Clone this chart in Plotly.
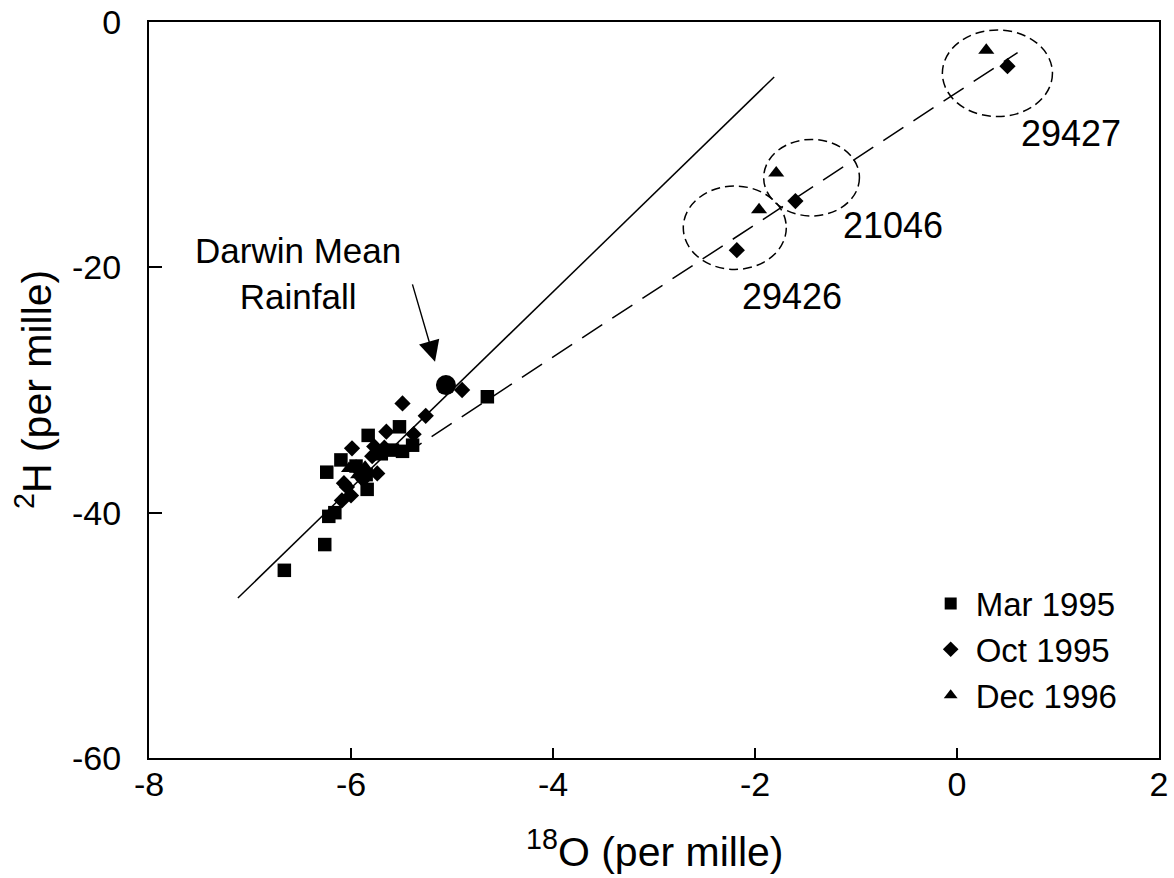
import plotly.graph_objects as go

# sample data (delta 18O, delta 2H, per mille)
mar95_o18 = [-6.66, -6.26, -6.22, -6.16, -6.24, -6.10, -5.83, -5.52, -4.65, -5.84, -5.39, -5.49, -5.59, -5.90, -5.85, -5.70, -5.95]
mar95_h2 = [-44.7, -42.6, -40.3, -40.0, -36.7, -35.7, -33.7, -33.0, -30.55, -38.1, -34.5, -35.0, -34.9, -36.7, -36.9, -35.2, -36.2]

oct95_o18 = [-5.49, -5.26, -5.65, -4.90, -5.99, -5.38, -6.04, -6.09, -6.00, -5.74, -5.79, -5.67, -5.95, -5.88, -5.77, -6.07, -1.60, -2.18, 0.50]
oct95_h2 = [-31.1, -32.1, -33.4, -30.0, -34.75, -33.6, -37.9, -39.0, -38.6, -36.8, -35.4, -34.7, -36.3, -37.3, -34.6, -37.6, -14.6, -18.6, -3.6]

dec96_o18 = [0.29, -1.79, -1.96, -6.02, -5.93, -5.86]
dec96_h2 = [-2.3, -12.3, -15.3, -36.4, -36.9, -36.3]

darwin_o18 = [-5.06]
darwin_h2 = [-29.6]

# meteoric water line and evaporation line end points
gmwl_o18 = [-7.12, -1.81]
gmwl_h2 = [-46.96, -4.48]
evap_o18 = [-5.5, 0.6]
evap_h2 = [-35.4, -2.5]

# bore groupings (centre x, centre y, half width, half height)
bore_ids = ["29426", "21046", "29427"]
bore_cx = [-2.20, -1.44, 0.40]
bore_cy = [-16.77, -12.69, -4.18]
bore_rx = [0.51, 0.474, 0.545]
bore_ry = [3.40, 3.12, 3.53]
label_x = [-1.63, -0.63, 1.13]
label_y = [-22.4, -16.55, -9.05]

x_ticks = [-8, -6, -4, -2, 0, 2]
x_ticktext = ["-8", "-6", "-4", "-2", "0", "2"]
y_ticks = [-60, -40, -20, 0]
y_ticktext = ["-60", "-40", "-20", "0"]

FONT = "Liberation Sans, Arial, sans-serif"

fig = go.Figure()

fig.add_trace(go.Scatter(x=gmwl_o18, y=gmwl_h2, mode="lines", showlegend=False,
                         line=dict(color="black", width=1.5)))
fig.add_trace(go.Scatter(x=evap_o18, y=evap_h2, mode="lines", showlegend=False,
                         line=dict(color="black", width=1.5, dash="24px,12px")))

fig.add_trace(go.Scatter(x=mar95_o18, y=mar95_h2, mode="markers", name="Mar 1995",
                         marker=dict(symbol="square", size=13.5, color="black")))
fig.add_trace(go.Scatter(x=oct95_o18, y=oct95_h2, mode="markers", name="Oct 1995",
                         marker=dict(symbol="diamond", size=12.5, color="black")))
fig.add_trace(go.Scatter(x=dec96_o18, y=dec96_h2, mode="markers", name="Dec 1996",
                         marker=dict(symbol="triangle-up", size=14, color="black")))
fig.add_trace(go.Scatter(x=darwin_o18, y=darwin_h2, mode="markers", showlegend=False,
                         marker=dict(symbol="circle", size=20, color="black")))

for i in range(len(bore_ids)):
    fig.add_shape(type="circle", xref="x", yref="y",
                  x0=bore_cx[i] - bore_rx[i], x1=bore_cx[i] + bore_rx[i],
                  y0=bore_cy[i] - bore_ry[i], y1=bore_cy[i] + bore_ry[i],
                  line=dict(color="black", width=1.5, dash="9px,5px"))
    fig.add_annotation(x=label_x[i], y=label_y[i], text=bore_ids[i], showarrow=False,
                       font=dict(size=36, color="black", family=FONT))

fig.add_annotation(x=-6.52, y=-20.54, text="Darwin Mean<br>Rainfall", showarrow=False,
                   font=dict(size=35, color="black", family=FONT))
fig.add_annotation(x=-5.168, y=-27.7, ax=-5.396, ay=-21.27, axref="x", ayref="y",
                   text="", showarrow=True, arrowhead=2, arrowsize=3.0, arrowwidth=1.4,
                   arrowcolor="black")

# axis titles
fig.add_annotation(x=0.5, y=0, xref="paper", yref="paper", yanchor="middle", yshift=-91,
                   text="<sup>18</sup>O (per mille)", showarrow=False,
                   font=dict(size=41, color="black", family=FONT))
fig.add_annotation(x=0, y=0.5, xref="paper", yref="paper", xanchor="center", xshift=-115,
                   text="<sup>2</sup>H (per mille)", textangle=-90, showarrow=False,
                   font=dict(size=41, color="black", family=FONT))

fig.update_xaxes(range=[-8, 2], tickvals=x_ticks, ticktext=x_ticktext,
                 ticks="inside", ticklen=10, tickwidth=1.5, tickcolor="black",
                 showline=True, linecolor="black", linewidth=2, mirror=True,
                 showgrid=False, zeroline=False, ticklabelstandoff=-5, automargin=False,
                 tickfont=dict(size=34, color="black", family=FONT))
fig.update_yaxes(range=[-60, 0], tickvals=y_ticks, ticktext=y_ticktext,
                 ticks="inside", ticklen=13, tickwidth=1.5, tickcolor="black",
                 showline=True, linecolor="black", linewidth=2, mirror=True,
                 showgrid=False, zeroline=False, ticklabelstandoff=19, automargin=False,
                 tickfont=dict(size=34, color="black", family=FONT))

fig.update_layout(
    width=1174, height=878,
    margin=dict(l=149, r=15, t=22, b=120),
    plot_bgcolor="white", paper_bgcolor="white",
    font=dict(family=FONT, color="black"),
    legend=dict(x=0.769, y=0.248, xanchor="left", yanchor="top",
                bgcolor="rgba(0,0,0,0)", itemsizing="constant", itemwidth=40,
                font=dict(size=33, color="black", family=FONT)),
)

# the page body has a default 8px margin; drop it so the figure fills the window
fig.write_html("out.html", config={"displayModeBar": False},
               post_script="document.body.style.margin = '0';")
